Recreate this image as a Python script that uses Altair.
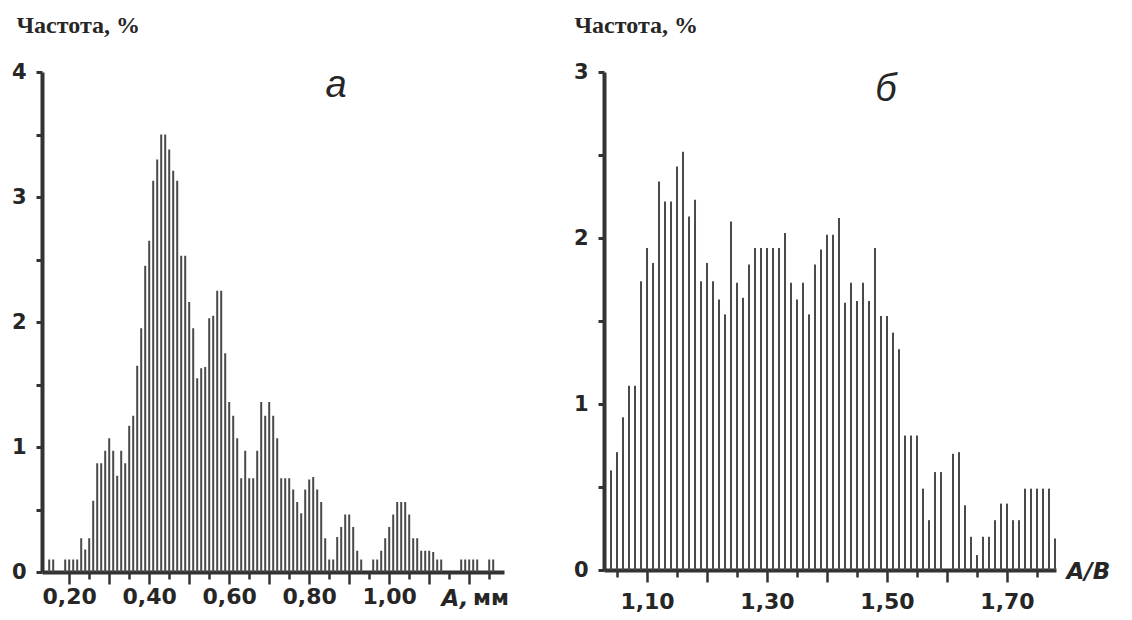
import altair as alt
import pandas as pd

# ---------------- data ----------------
# Panel а: frequency (%) of particle size A, mm; bins 0.01 mm wide starting at 0.15
a_first_bin = 0.15
a_freq = [
    0.10, 0.10, 0.00, 0.00, 0.10, 0.10, 0.10, 0.10, 0.27, 0.18,   # 0.15-0.24
    0.27, 0.57, 0.87, 0.87, 0.97, 1.07, 0.97, 0.77, 0.97, 0.87,   # 0.25-0.34
    1.17, 1.25, 1.65, 1.95, 2.45, 2.65, 3.13, 3.30, 3.50, 3.50,   # 0.35-0.44
    3.38, 3.21, 3.13, 2.53, 2.53, 2.16, 1.95, 1.55, 1.63, 1.64,   # 0.45-0.54
    2.03, 2.05, 2.25, 2.25, 1.75, 1.36, 1.25, 1.07, 0.75, 0.97,   # 0.55-0.64
    0.75, 0.75, 0.97, 1.36, 1.25, 1.36, 1.25, 1.07, 0.75, 0.75,   # 0.65-0.74
    0.75, 0.66, 0.56, 0.47, 0.66, 0.74, 0.76, 0.66, 0.56, 0.27,   # 0.75-0.84
    0.10, 0.10, 0.28, 0.36, 0.46, 0.46, 0.36, 0.17, 0.10, 0.00,   # 0.85-0.94
    0.00, 0.10, 0.10, 0.17, 0.27, 0.36, 0.46, 0.56, 0.56, 0.56,   # 0.95-1.04
    0.46, 0.27, 0.27, 0.17, 0.17, 0.17, 0.16, 0.10, 0.10, 0.00,   # 1.05-1.14
    0.00, 0.00, 0.00, 0.10, 0.10, 0.10, 0.10, 0.10, 0.00, 0.00,   # 1.15-1.24
    0.10, 0.10,                                                   # 1.25-1.26
]
a_size = [round(a_first_bin + 0.01 * i, 2) for i in range(len(a_freq))]

# Panel б: frequency (%) of the ratio A/B; bins 0.01 wide starting at 1.04
b_first_bin = 1.04
b_freq = [
    0.60, 0.71, 0.92, 1.11, 1.11, 1.74,                           # 1.04-1.09
    1.94, 1.85, 2.34, 2.22, 2.22, 2.43, 2.52, 2.13, 2.23, 1.74,   # 1.10-1.19
    1.85, 1.74, 1.63, 1.54, 2.10, 1.73, 1.64, 1.84, 1.94, 1.94,   # 1.20-1.29
    1.94, 1.94, 1.94, 2.03, 1.73, 1.63, 1.73, 1.54, 1.84, 1.93,   # 1.30-1.39
    2.02, 2.02, 2.12, 1.61, 1.73, 1.62, 1.73, 1.62, 1.94, 1.53,   # 1.40-1.49
    1.53, 1.43, 1.33, 0.81, 0.81, 0.81, 0.49, 0.30, 0.59, 0.59,   # 1.50-1.59
    0.00, 0.70, 0.71, 0.39, 0.20, 0.09, 0.20, 0.20, 0.30, 0.40,   # 1.60-1.69
    0.40, 0.30, 0.30, 0.49, 0.49, 0.49, 0.49, 0.49, 0.19,         # 1.70-1.78
]
b_ratio = [round(b_first_bin + 0.01 * i, 2) for i in range(len(b_freq))]

# axes
a_ticks = [0.20, 0.25, 0.30, 0.35, 0.40, 0.45, 0.50, 0.55, 0.60, 0.65, 0.70,
           0.75, 0.80, 0.85, 0.90, 0.95, 1.00, 1.05, 1.10, 1.15, 1.20, 1.25]
a_long_ticks = ["0.20", "0.30", "0.40", "0.50", "0.60", "0.70", "0.80",
                "0.90", "1.00", "1.10", "1.20"]
a_labels = ["0.20", "0.40", "0.60", "0.80", "1.00"]
b_ticks = [1.05, 1.10, 1.15, 1.20, 1.25, 1.30, 1.35, 1.40, 1.45, 1.50,
           1.55, 1.60, 1.65, 1.70, 1.75]
b_long_ticks = ["1.10", "1.20", "1.30", "1.40", "1.50", "1.60", "1.70"]
b_labels = ["1.10", "1.30", "1.50", "1.70"]
ya_ticks = [0, 0.5, 1, 1.5, 2, 2.5, 3, 3.5, 4]
yb_ticks = [0, 0.5, 1, 1.5, 2, 2.5, 3]

y_title = "Частота, %"
a_x_title = "A,"
a_unit = ["мм"]
b_x_title = "A/B"
letter_a = ["а"]
letter_b = ["б"]

# ---------------- style ----------------
BAR = "#4a4a4a"
AXC = "#333333"
TXT = "#262626"
BG = "#ffffff"


def in_list(lst, expr):
    return "indexof([" + ",".join("'%s'" % s for s in lst) + "], " + expr + ") >= 0"


def x_axis(ticks, long_ticks, labels, title, tx, ty, lpad, tbase):
    return alt.Axis(
        values=ticks, format=".2f",
        labelExpr=in_list(labels, "datum.label") + " ? replace(datum.label, '.', ',') : ''",
        tickSize={"condition": {"test": in_list(long_ticks, "format(datum.value, '.2f')"),
                                "value": 12}, "value": 7},
        tickWidth=2.5, tickColor=AXC, domainColor=AXC, domainWidth=4,
        labelFont="DejaVu Sans", labelFontWeight="bold", labelFontSize=22,
        labelColor=TXT, labelPadding=lpad, labelOverlap=False, labelFlush=False,
        grid=False, title=title, titleFont="DejaVu Sans", titleFontWeight="bold",
        titleFontStyle="italic", titleFontSize=23, titleColor=TXT,
        titleAlign="left", titleBaseline=tbase, titleX=tx, titleY=ty, titleAngle=0,
    )


def y_axis(ticks, tx):
    return alt.Axis(
        values=ticks,
        labelExpr="datum.value % 1 == 0 ? format(datum.value, 'd') : ''",
        tickSize=6, tickWidth=3, tickColor=AXC, domainColor=AXC, domainWidth=4,
        labelFont="DejaVu Sans", labelFontWeight="bold", labelFontSize=21,
        labelColor=TXT, labelPadding=10, labelOverlap=False, labelFlush=False,
        grid=False, title=y_title, titleFont="Liberation Serif", titleFontWeight="bold",
        titleFontSize=24, titleColor=TXT, titleAngle=0, titleAlign="left",
        titleBaseline="alphabetic", titleX=tx, titleY=-40,
    )


def panel(df, xfield, xdom, ydom, xaxis, yaxis, w, h, letter, lx, ly, extra=None):
    bars = alt.Chart(df).mark_rule(strokeWidth=2, color=BAR).encode(
        x=alt.X(xfield + ":Q", scale=alt.Scale(domain=xdom, nice=False, zero=False), axis=xaxis),
        y=alt.Y("freq:Q", scale=alt.Scale(domain=ydom, nice=False), axis=yaxis),
        y2=alt.datum(0),
    )
    let = alt.Chart(pd.DataFrame({"t": letter})).mark_text(
        font="Liberation Sans", fontStyle="italic", fontSize=38, color=TXT,
        align="center", baseline="alphabetic",
    ).encode(x=alt.value(lx), y=alt.value(ly), text="t:N")
    layers = [bars, let]
    if extra is not None:
        layers.append(extra)
    return alt.layer(*layers).properties(width=w, height=h)


df_a = pd.DataFrame({"size": a_size, "freq": a_freq})
df_b = pd.DataFrame({"ratio": b_ratio, "freq": b_freq})

unit_text = alt.Chart(pd.DataFrame({"t": a_unit})).mark_text(
    font="DejaVu Sans", fontWeight="bold", fontSize=22, color=TXT,
    align="left", baseline="alphabetic",
).encode(x=alt.value(431), y=alt.value(533), text="t:N")

chart_a = panel(
    df_a, "size", [0.132, 1.287], [0, 4],
    x_axis(a_ticks, a_long_ticks, a_labels, a_x_title, 399, 33, 2, "alphabetic"),
    y_axis(ya_ticks, -26), 462, 500, letter_a, 294, 25, unit_text,
)
chart_b = panel(
    df_b, "ratio", [1.0283, 1.7817], [0, 3],
    x_axis(b_ticks, b_long_ticks, b_labels, b_x_title, 462, 8, 9, "alphabetic"),
    y_axis(yb_ticks, -30), 452, 498, letter_b, 282, 29,
)

chart = alt.hconcat(
    chart_a, chart_b, spacing=100, bounds="flush",
    padding={"left": 3, "top": 5, "right": 5, "bottom": 5},
    background=BG,
).configure_view(stroke=None)

chart.save("out.html", embed_options={"renderer": "svg", "actions": False})
